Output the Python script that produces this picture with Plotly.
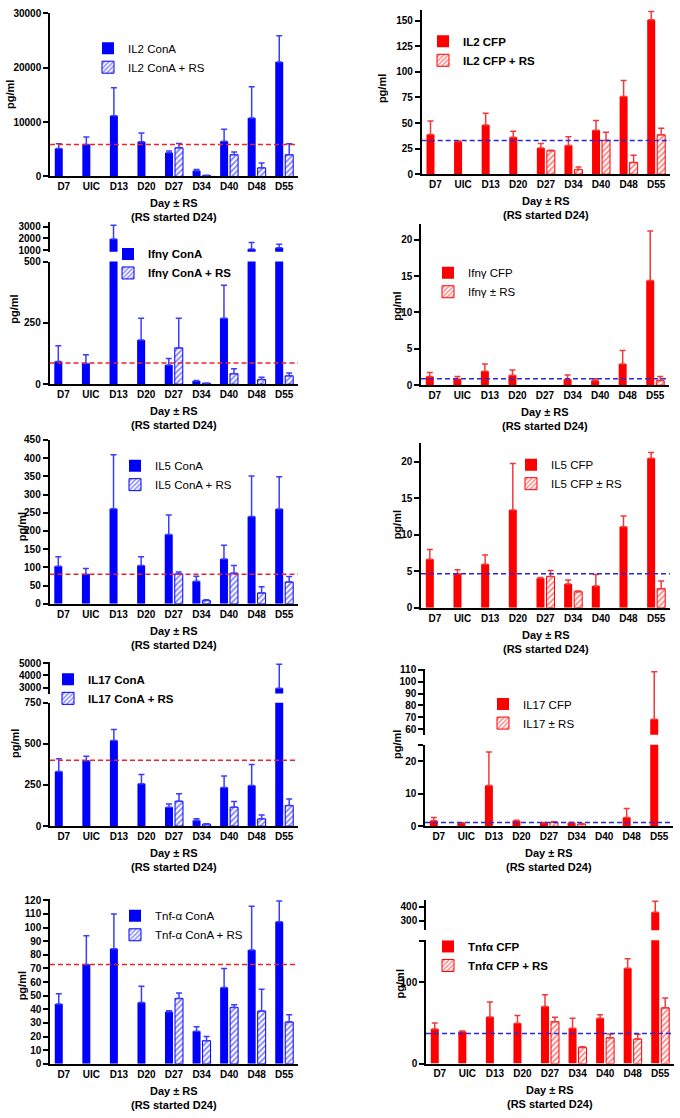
import plotly.graph_objects as go

W, H = 680, 1118
N = None
cats = ["D7", "UIC", "D13", "D20", "D27", "D34", "D40", "D48", "D55"]

# ---- IL2 ConA ----
il2_cona = [5150, 5880, 11150, 6360, 4360, 1030, 6480, 10730, 21030]
il2_cona_err = [850, 1390, 5150, 1640, 310, 240, 2190, 5750, 4850]
il2_cona_rs = [N, N, N, N, 5270, 180, 4000, 1580, 4000]
il2_cona_rs_err = [N, N, N, N, 790, 30, 480, 900, 2000]
il2_cona_ref = 5880
# ---- IL2 CFP ----
il2_cfp = [38.7, 32, 48, 36, 25.5, 28, 43, 76, 151]
il2_cfp_err = [13.3, 0.5, 11.5, 6, 4.5, 8.5, 9.5, 15.5, 8]
il2_cfp_rs = [N, N, N, N, 23, 4.5, 33, 11.5, 38.5]
il2_cfp_rs_err = [N, N, N, N, 0.5, 2.5, 8, 7, 6.5]
il2_cfp_ref = 33
# ---- Ifng ConA ----
ifng_cona = [93, 84, 1950, 180, 78, 13, 269, 1090, 1200]
ifng_cona_err = [64, 36, 1190, 89, 27, 2, 134, 570, 310]
ifng_cona_rs = [N, N, N, N, 148, 4, 43, 19, 34]
ifng_cona_rs_err = [N, N, N, N, 121, 0, 20, 9, 12]
ifng_cona_ref = 86
# ---- Ifng CFP ----
ifng_cfp = [1.18, 0.86, 1.9, 1.36, N, 0.8, 0.63, 2.9, 14.4]
ifng_cfp_err = [0.58, 0.34, 1.0, 0.74, N, 0.6, 0.27, 1.85, 6.8]
ifng_cfp_rs = [N, N, N, N, N, N, N, N, 0.63]
ifng_cfp_rs_err = [N, N, N, N, N, N, N, N, 0.57]
ifng_cfp_ref = 0.9
# ---- IL5 ConA ----
il5_cona = [103, 81, 261, 105, 190, 62, 123, 240, 260]
il5_cona_err = [26, 16, 148, 24, 54, 14, 38, 111, 89]
il5_cona_rs = [N, N, N, N, 82, 9, 84, 30, 60]
il5_cona_rs_err = [N, N, N, N, 5, 2, 21, 17, 15]
il5_cona_ref = 81
# ---- IL5 CFP ----
il5_cfp = [6.64, 4.65, 5.96, 13.4, 4.06, 3.25, 3.0, 11.1, 20.5]
il5_cfp_err = [1.36, 0.55, 1.26, 6.4, 0.09, 0.55, 1.56, 1.5, 0.8]
il5_cfp_rs = [N, N, N, N, 4.29, 2.2, N, N, 2.62]
il5_cfp_rs_err = [N, N, N, N, 0.81, 0.1, N, N, 1.04]
il5_cfp_ref = 4.65
# ---- IL17 ConA ----
il17_cona = [332, 398, 521, 258, 115, 34, 235, 247, 2950]
il17_cona_err = [78, 27, 67, 56, 20, 10, 69, 127, 1970]
il17_cona_rs = [N, N, N, N, 151, 12, 115, 44, 125]
il17_cona_rs_err = [N, N, N, N, 46, 2, 34, 24, 40]
il17_cona_ref = 400
# ---- IL17 CFP ----
il17_cfp = [1.7, 1.1, 12.5, 1.7, 1.1, 1.1, N, 2.7, 68.4]
il17_cfp_err = [1.0, N, 10.3, 0.2, 0.1, 0.1, N, 2.8, 40]
il17_cfp_rs = [N, N, N, N, 1.3, 0.7, N, N, N]
il17_cfp_rs_err = [N, N, N, N, 0.1, 0.2, N, N, N]
il17_cfp_ref = 1.2
# ---- Tnf-a ConA ----
tnfa_cona = [44, 73, 84.4, 45, 38.2, 24, 56, 83.5, 104.3]
tnfa_cona_err = [7.5, 21, 25.6, 12, 0.8, 3.3, 14, 32.1, 15.2]
tnfa_cona_rs = [N, N, N, N, 48, 17, 41.4, 38.7, 30.7]
tnfa_cona_rs_err = [N, N, N, N, 4, 3, 1.9, 16, 5.3]
tnfa_cona_ref = 73
# ---- Tnfa CFP ----
tnfa_cfp = [42.5, 39.3, 57, 49.4, 70, 43.3, 55.5, 117, 360]
tnfa_cfp_err = [7.3, 0.5, 18.7, 9.6, 14.6, 12.2, 4.5, 11.7, 80]
tnfa_cfp_rs = [N, N, N, N, 51.4, 19.8, 31.6, 30, 68.4]
tnfa_cfp_rs_err = [N, N, N, N, 5.3, 0.8, 4.8, 6, 12.2]
tnfa_cfp_ref = 36.8

BLUE, BLUE_ERR = "#0000ff", "#3c3cff"
RED, RED_ERR = "#ff0000", "#f03a3a"
REF_RED, REF_BLUE = "#e3262e", "#2b2bd6"
FONT = "Liberation Sans, Arial, sans-serif"

panels = [
    dict(v=il2_cona, e=il2_cona_err, r=il2_cona_rs, re=il2_cona_rs_err, ref=il2_cona_ref,
         names=("IL2 ConA", "IL2 ConA + RS"), c="b",
         x=(50, 298), low=(7.3, 172.3, [0, 30000], [0, 10000, 20000, 30000], None),
         up=None, leg=(88, 50), yt=(10, 90)),
    dict(v=il2_cfp, e=il2_cfp_err, r=il2_cfp_rs, re=il2_cfp_rs_err, ref=il2_cfp_ref,
         names=("<b>IL2 CFP</b>", "<b>IL2 CFP + RS</b>"), c="r",
         x=(421.7, 670), low=(4, 170, [0, 160.6], [0, 25, 50, 75, 100, 125, 150], None),
         up=None, leg=(423, 43), yt=(382, 84)),
    dict(v=ifng_cona, e=ifng_cona_err, r=ifng_cona_rs, re=ifng_cona_rs_err, ref=ifng_cona_ref,
         names=("<b>Ifnγ ConA</b>", "<b>Ifnγ ConA + RS</b>"), c="b",
         x=(49.5, 298), low=(258.3, 382.3, [0, 500], [0, 250, 500], None),
         up=(218.3, 248.3, [860, 3430], [1000, 2000, 3000]), leg=(108, 258), yt=(14, 307)),
    dict(v=ifng_cfp, e=ifng_cfp_err, r=ifng_cfp_rs, re=ifng_cfp_rs_err, ref=ifng_cfp_ref,
         names=("Ifnγ CFP", "Ifnγ ± RS"), c="r",
         x=(421, 669), low=(220, 383.3, [0, 22.2], [0, 5, 10, 15, 20], None),
         up=None, leg=(428, 277), yt=(397, 304)),
    dict(v=il5_cona, e=il5_cona_err, r=il5_cona_rs, re=il5_cona_rs_err, ref=il5_cona_ref,
         names=("IL5 ConA", "IL5 ConA + RS"), c="b",
         x=(49.5, 298), low=(438.6, 604.3, [0, 450], list(range(0, 451, 50)), None),
         up=None, leg=(115, 472), yt=(22, 527)),
    dict(v=il5_cfp, e=il5_cfp_err, r=il5_cfp_rs, re=il5_cfp_rs_err, ref=il5_cfp_ref,
         names=("IL5 CFP", "IL5 CFP ± RS"), c="r",
         x=(421, 670), low=(441.7, 608.3, [0, 22.6], [0, 5, 10, 15, 20], None),
         up=None, leg=(511, 471), yt=(397, 525)),
    dict(v=il17_cona, e=il17_cona_err, r=il17_cona_rs, re=il17_cona_rs_err, ref=il17_cona_ref,
         names=("<b>IL17 ConA</b>", "<b>IL17 ConA + RS</b>"), c="b",
         x=(50, 298), low=(704.3, 829, [0, 750], [0, 250, 500, 750], None),
         up=(663.3, 695, [2510, 5080], [3000, 4000, 5000]), leg=(48, 688), yt=(15, 746)),
    dict(v=il17_cfp, e=il17_cfp_err, r=il17_cfp_rs, re=il17_cfp_rs_err, ref=il17_cfp_ref,
         names=("IL17 CFP", "IL17 ± RS"), c="r",
         x=(425, 673), low=(746.7, 829.3, [0, 25], [0, 10, 20, 25], ["0", "10", "20", ""]),
         up=(670, 736.7, [55.4, 110.8], [60, 70, 80, 90, 100, 110]), leg=(483, 713), yt=(397, 747)),
    dict(v=tnfa_cona, e=tnfa_cona_err, r=tnfa_cona_rs, re=tnfa_cona_rs_err, ref=tnfa_cona_ref,
         names=("Tnf-α ConA", "Tnf-α ConA + RS"), c="b",
         x=(50, 298), low=(902.7, 1069.3, [0, 121], list(range(0, 121, 10)), None),
         up=None, leg=(115, 927), yt=(22, 991)),
    dict(v=tnfa_cfp, e=tnfa_cfp_err, r=tnfa_cfp_rs, re=tnfa_cfp_rs_err, ref=tnfa_cfp_ref,
         names=("<b>Tnfα CFP</b>", "<b>Tnfα CFP + RS</b>"), c="r",
         x=(426, 674), low=(944.3, 1069, [0, 151.5], [0, 100, 150], ["0", "100", ""]),
         up=(903.3, 934.3, [231, 452], [300, 400]), leg=(428, 958), yt=(400, 989)),
]


def xd(px):
    return px / W


def yd(py):
    return 1 - py / H


fig = go.Figure()
layout = dict(width=W, height=H, margin=dict(l=0, r=0, t=0, b=0),
              paper_bgcolor="white", plot_bgcolor="white",
              barmode="group", bargap=0.275, bargroupgap=0.2,
              font=dict(family=FONT, color="black"), shapes=[], annotations=[])

tickfont = dict(family=FONT, size=10, color="black", weight="bold")
axis_common = dict(showline=True, linecolor="black", linewidth=1.5, showgrid=False,
                   zeroline=False, tickfont=tickfont)

up_id = 11
for i, p in enumerate(panels, start=1):
    sx = "" if i == 1 else str(i)
    col, ecol = (BLUE, BLUE_ERR) if p["c"] == "b" else (RED, RED_ERR)
    refcol = REF_RED if p["c"] == "b" else REF_BLUE
    legname = "legend" if i == 1 else f"legend{i}"
    x0, x1 = p["x"]
    ytop, ybot, rng, tv, tt = p["low"]
    layout[f"xaxis{sx}"] = dict(domain=[xd(x0), xd(x1)], anchor=f"y{sx}",
                                range=[-0.5, 8.5], ticks="", **axis_common)
    ya = dict(domain=[yd(ybot), yd(ytop)], anchor=f"x{sx}", range=rng, tickvals=tv,
              tickformat="d", ticks="outside", ticklen=5, tickwidth=1.5, tickcolor="black",
              **axis_common)
    if tt is not None:
        ya["ticktext"] = tt
    layout[f"yaxis{sx}"] = ya

    yaxes = [f"y{sx}"]
    if p["up"] is not None:
        utop, ubot, urng, utv = p["up"]
        layout[f"yaxis{up_id}"] = dict(domain=[yd(ubot), yd(utop)], anchor=f"x{sx}",
                                       range=urng, tickvals=utv, tickformat="d",
                                       ticks="outside", ticklen=5, tickwidth=1.5,
                                       tickcolor="black", **axis_common)
        yaxes.append(f"y{up_id}")
        up_id += 1

    for k, yax in enumerate(yaxes):
        show = k == 0
        fig.add_trace(go.Bar(
            x=cats, y=p["v"], xaxis=f"x{sx}", yaxis=yax, name=p["names"][0],
            legend=legname, showlegend=show,
            marker=dict(color=col, line=dict(width=0)),
            error_y=dict(type="data", array=p["e"], arrayminus=[0] * 9, symmetric=False,
                         color=ecol, thickness=1.5, width=3)))
        fig.add_trace(go.Bar(
            x=cats, y=p["r"], xaxis=f"x{sx}", yaxis=yax, name=p["names"][1],
            legend=legname, showlegend=show,
            marker=dict(color="white", line=dict(color=col, width=1),
                        pattern=dict(shape="/", fgcolor=col, bgcolor="white",
                                     size=4, solidity=0.45)),
            error_y=dict(type="data", array=p["re"], arrayminus=[0] * 9, symmetric=False,
                         color=ecol, thickness=1.5, width=3)))

    layout["shapes"].append(dict(type="line", xref=f"x{sx} domain", yref=f"y{sx}",
                                 x0=0, x1=1, y0=p["ref"], y1=p["ref"],
                                 line=dict(color=refcol, width=1.5, dash="5px,3px")))

    lx, ly = p["leg"]
    layout[legname] = dict(x=xd(lx), y=yd(ly - 22), xanchor="left", yanchor="top",
                           bgcolor="rgba(0,0,0,0)", font=dict(family=FONT, size=11.5,
                                                              color="black"),
                           traceorder="normal", itemwidth=30)

    # axis titles
    layout["annotations"].append(dict(
        text="<b>Day ± RS<br>(RS started D24)</b>", xref="paper", yref="paper",
        x=xd((x0 + x1) / 2), y=yd(ybot + 19), xanchor="center", yanchor="top",
        showarrow=False, font=dict(family=FONT, size=11, color="black")))
    tx, ty = p["yt"]
    layout["annotations"].append(dict(
        text="<b>pg/ml</b>", xref="paper", yref="paper", x=xd(tx), y=yd(ty),
        xanchor="center", yanchor="middle", textangle=-90, showarrow=False,
        font=dict(family=FONT, size=11, color="black")))

fig.update_layout(**layout)
fig.write_html("out.html", config={"displayModeBar": False},
               post_script="document.body.style.margin='0';")
